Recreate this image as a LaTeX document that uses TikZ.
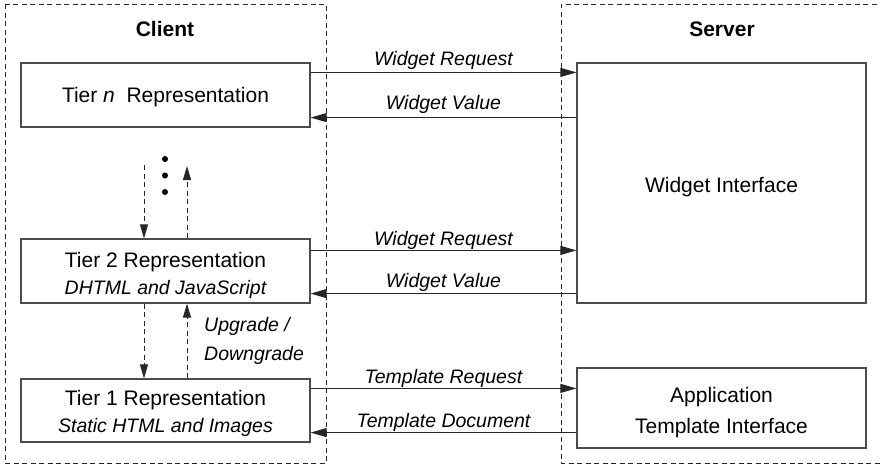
\documentclass[tikz,border=0pt]{standalone}
\usepackage{fontspec}
\setmainfont{Liberation Sans}
\usetikzlibrary{arrows.meta,calc}
\newcommand\subtxt{\fontsize{19.5}{24}\selectfont\itshape}
\newcommand\topstrut[1]{\rule{0pt}{#1}}
\begin{document}
\begin{tikzpicture}[x=1pt,y=-1pt,
  region/.style={draw=black!85,line width=0.9pt,dash pattern=on 5pt off 3.5pt},
  tierbox/.style={draw=black!70,line width=1.2pt,minimum width=289pt,inner sep=0pt,align=center,font=\fontsize{21}{28}\selectfont},
  title/.style={font=\fontsize{21}{25}\selectfont\bfseries,anchor=base},
  arr/.style={draw=black!85,line width=1pt,-{Triangle[length=16pt,width=9pt]}},
  darr/.style={draw=black!85,line width=0.9pt,dash pattern=on 5pt off 3.5pt,-{Triangle[length=14pt,width=8pt]}},
  lbl/.style={font=\fontsize{19.5}{24}\selectfont\itshape,anchor=base,inner sep=0pt},
  dot/.style={circle,fill=black,inner sep=0pt,minimum size=6pt}
]
\useasboundingbox (0,0) rectangle (880,466);
% regions
\draw[region] (5,4) rectangle (326,463);
\draw[region] (885,4) -- (561,4) -- (561,463) -- (885,463);
\node[title] (client) at (165,36) {Client};
\node[title] (server) at (722,36) {Server};
% client boxes
\node[tierbox,minimum height=64pt] (tiern) at (165.5,95) {\topstrut{19pt}Tier \textit{n}\ \ Representation};
\node[tierbox,minimum height=64pt] (tier2) at (165.5,271) {\topstrut{25pt}Tier 2 Representation\\[-1pt]{\subtxt DHTML and JavaScript}};
\node[tierbox,minimum height=63pt] (tier1) at (165.5,410.5) {\topstrut{22pt}Tier 1 Representation\\[-1pt]{\subtxt Static HTML and Images}};
% server boxes
\node[tierbox,minimum height=240pt] (widget) at (721.5,183) {\topstrut{23pt}Widget Interface};
\node[tierbox,minimum height=80pt] (app) at (721.5,408) {\topstrut{24pt}Application\\[3pt]Template Interface};
% horizontal arrows
\coordinate (r1) at ([yshift=-10pt]tiern.north east);
\coordinate (v1) at ([yshift=10pt]tiern.south east);
\coordinate (r2) at ([yshift=-12pt]tier2.north east);
\coordinate (v2) at ([yshift=10pt]tier2.south east);
\coordinate (r3) at ([yshift=-10pt]tier1.north east);
\coordinate (v3) at ([yshift=10pt]tier1.south east);
\draw[arr] (r1) -- node[lbl,yshift=7pt] {Widget Request} (r1 -| widget.west);
\draw[arr] (v1 -| widget.west) -- node[lbl,yshift=8pt] {Widget Value} (v1);
\draw[arr] (r2) -- node[lbl,yshift=5pt] {Widget Request} (r2 -| widget.west);
\draw[arr] (v2 -| widget.west) -- node[lbl,yshift=6pt] {Widget Value} (v2);
\draw[arr] (r3) -- node[lbl,yshift=5pt] {Template Request} (r3 -| app.west);
\draw[arr] (v3 -| app.west) -- node[lbl,yshift=5pt] {Template Document} (v3);
% vertical dashed arrows
\coordinate (dn) at (144,165);
\coordinate (up) at (187,166);
\draw[darr] (dn) -- (dn |- tier2.north);
\draw[darr] (up |- tier2.north) -- (up);
\draw[darr] (tier2.south -| dn) -- (tier1.north -| dn);
\draw[darr] (tier1.north -| up) -- (tier2.south -| up);
\node[dot] (d1) at (165,159) {};
\node[dot] (d2) at (165,175.5) {};
\node[dot] (d3) at (165,192) {};
\node[font=\fontsize{19.5}{29}\selectfont\itshape,align=left,anchor=west,inner sep=0pt] (updown) at (204,341) {Upgrade /\\Downgrade};
\end{tikzpicture}
\end{document}
